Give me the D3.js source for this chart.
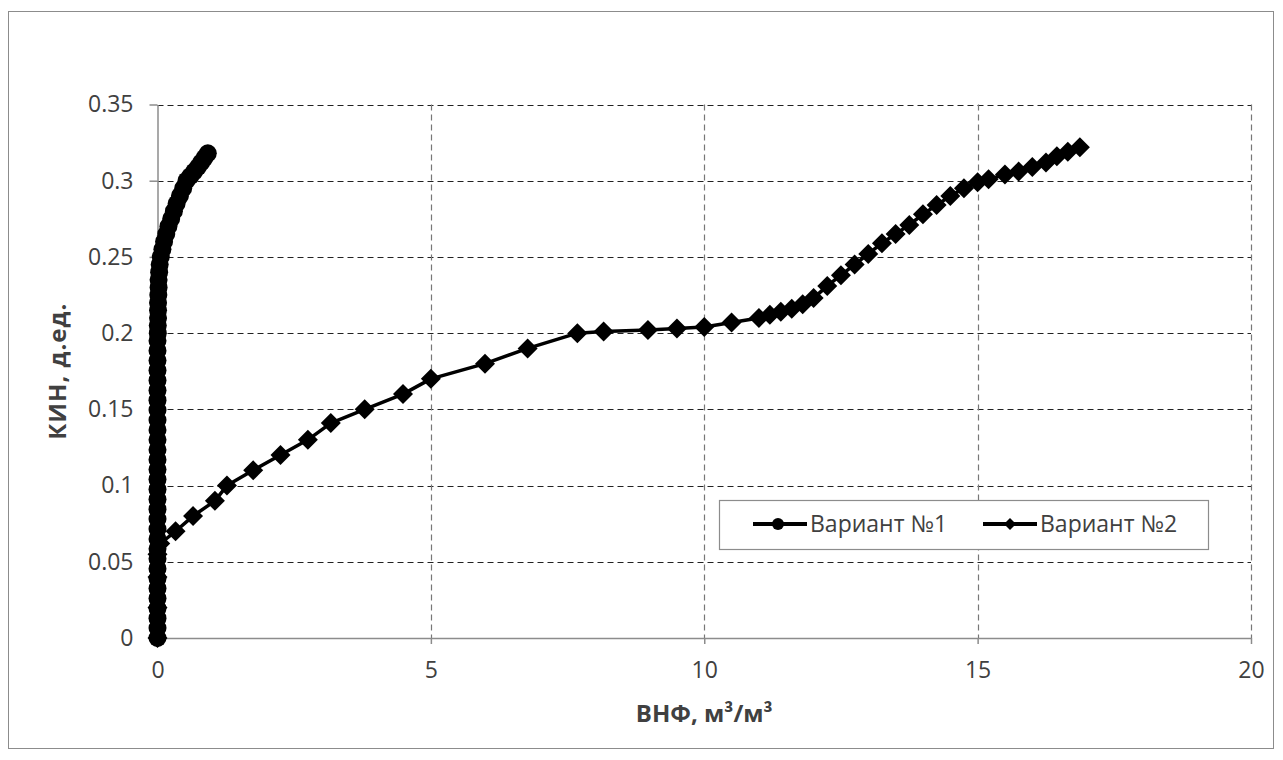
<!DOCTYPE html>
<html>
<head>
<meta charset="utf-8">
<script src="https://cdn.jsdelivr.net/npm/d3@7.9.0/dist/d3.min.js"></script>
<style>
  html, body { margin: 0; padding: 0; background: #fff; }
  svg { display: block; font-family: "Open Sans", Lato, sans-serif; }
</style>
</head>
<body>
<svg id="chart" width="1283" height="760"></svg>
<script>
// Вариант №1 (circles)
const x1 = [0, 0, 0, 0, 0, 0, 0, 0, 0, 0,
            0, 0, 0, 0, 0, 0, 0, 0, 0, 0,
            0, 0, 0, 0, 0, 0, 0, 0, 0, 0,
            0, 0.005, 0.005, 0.01, 0.01, 0.01, 0.015, 0.02, 0.02, 0.03,
            0.04, 0.06, 0.09, 0.12, 0.16, 0.2, 0.25, 0.3, 0.35, 0.41,
            0.47, 0.53, 0.6, 0.67, 0.74, 0.8, 0.86, 0.92];
const y1 = [0, 0.0065, 0.013, 0.0195, 0.026, 0.0325, 0.039, 0.0455, 0.052, 0.0585,
            0.065, 0.0715, 0.078, 0.0845, 0.091, 0.0975, 0.104, 0.1105, 0.117, 0.1235,
            0.13, 0.1365, 0.143, 0.1495, 0.156, 0.1625, 0.169, 0.1755, 0.182, 0.1885,
            0.195, 0.2, 0.205, 0.21, 0.215, 0.22, 0.225, 0.23, 0.235, 0.24,
            0.245, 0.25, 0.255, 0.26, 0.265, 0.27, 0.275, 0.28, 0.285, 0.29,
            0.295, 0.3, 0.303, 0.306, 0.309, 0.312, 0.315, 0.318];

// Вариант №2 (diamonds)
const x2 = [0, 0, 0, 0, 0.05, 0.33, 0.65, 1.05, 1.27, 1.75,
            2.25, 2.75, 3.17, 3.79, 4.49, 5.0, 5.99, 6.77, 7.68, 8.16,
            8.97, 9.5, 10.0, 10.5, 11.0, 11.2, 11.4, 11.6, 11.8, 12.0,
            12.25, 12.5, 12.75, 13.0, 13.25, 13.5, 13.75, 14.0, 14.25, 14.5,
            14.75, 15.0, 15.2, 15.5, 15.75, 16.0, 16.25, 16.45, 16.65, 16.87];
const y2 = [0, 0.02, 0.04, 0.055, 0.062, 0.07, 0.08, 0.09, 0.1, 0.11,
            0.12, 0.13, 0.141, 0.15, 0.16, 0.17, 0.18, 0.19, 0.2, 0.201,
            0.202, 0.203, 0.204, 0.207, 0.21, 0.212, 0.214, 0.216, 0.219, 0.223,
            0.231, 0.238, 0.245, 0.252, 0.259, 0.265, 0.271, 0.278, 0.284, 0.29,
            0.295, 0.299, 0.301, 0.304, 0.306, 0.309, 0.312, 0.316, 0.319, 0.322];

const xTicks = [0, 5, 10, 15, 20];
const yTicks = [0, 0.05, 0.1, 0.15, 0.2, 0.25, 0.3, 0.35];
const seriesNames = ['Вариант №1', 'Вариант №2'];
const xTitle = 'ВНФ, м³/м³';
const yTitle = 'КИН, д.ед.';

const svg = d3.select('#chart');

// outer chart frame
svg.append('rect')
  .attr('x', 8.5).attr('y', 11.5)
  .attr('width', 1265).attr('height', 737)
  .attr('fill', '#fff').attr('stroke', '#8c8c8c').attr('stroke-width', 1);

const x = d3.scaleLinear().domain([0, 20]).range([157.5, 1251]);
const y = d3.scaleLinear().domain([0, 0.35]).range([638, 104.5]);

// grid lines
const grid = svg.append('g');
grid.selectAll('.hgrid')
  .data(yTicks.filter(d => d > 0))
  .join('line')
  .attr('x1', x(0)).attr('x2', x(20))
  .attr('y1', d => Math.round(y(d)) + 0.5).attr('y2', d => Math.round(y(d)) + 0.5)
  .attr('stroke', '#222').attr('stroke-width', 1.2)
  .attr('stroke-dasharray', '6,4');
grid.selectAll('.vgrid')
  .data(xTicks.filter(d => d > 0))
  .join('line')
  .attr('x1', d => Math.round(x(d)) + 0.5).attr('x2', d => Math.round(x(d)) + 0.5)
  .attr('y1', y(0.35)).attr('y2', y(0))
  .attr('stroke', '#777').attr('stroke-width', 1.2)
  .attr('stroke-dasharray', '6,4');

// axes
const xAxis = svg.append('g')
  .attr('transform', `translate(0,${y(0)})`)
  .call(d3.axisBottom(x).tickValues(xTicks).tickSize(6).tickPadding(18).tickSizeOuter(0));
const yAxis = svg.append('g')
  .attr('transform', `translate(${x(0)},0)`)
  .call(d3.axisLeft(y).tickValues(yTicks).tickFormat(d => d3.format('')(+d.toFixed(2))).tickSize(8).tickPadding(16).tickSizeOuter(0));
[xAxis, yAxis].forEach(g => {
  g.select('.domain').attr('stroke', '#8c8c8c').attr('stroke-width', 1.5);
  g.selectAll('.tick line').attr('stroke', '#8c8c8c').attr('stroke-width', 1.5);
  g.selectAll('.tick text').attr('fill', '#404040').style('font-size', '23px').style('font-family', '"Open Sans", sans-serif');
});

// axis titles
svg.append('text')
  .attr('x', (x(0) + x(20)) / 2).attr('y', 722)
  .attr('text-anchor', 'middle')
  .attr('font-size', 24).attr('font-weight', 'bold').attr('fill', '#404040')
  .text(xTitle);
svg.append('text')
  .attr('transform', `translate(66,${(y(0) + y(0.35)) / 2}) rotate(-90)`)
  .attr('text-anchor', 'middle')
  .attr('font-size', 24).attr('font-weight', 'bold').attr('fill', '#404040')
  .attr('letter-spacing', 1)
  .text(yTitle);

const s1 = x1.map((v, i) => [v, y1[i]]);
const s2 = x2.map((v, i) => [v, y2[i]]);
const line = d3.line().x(d => x(d[0])).y(d => y(d[1]));

const diamond = (s) => `M0,${-s}L${s},0L0,${s}L${-s},0Z`;

// series 2
svg.append('path').datum(s2)
  .attr('d', line).attr('fill', 'none').attr('stroke', '#000').attr('stroke-width', 3.5)
  .attr('stroke-linejoin', 'round');
svg.append('g').selectAll('path')
  .data(s2)
  .join('path')
  .attr('transform', d => `translate(${x(d[0])},${y(d[1])})`)
  .attr('d', diamond(10)).attr('fill', '#000');

// series 1
svg.append('path').datum(s1)
  .attr('d', line).attr('fill', 'none').attr('stroke', '#000').attr('stroke-width', 3.5)
  .attr('stroke-linejoin', 'round');
svg.append('g').selectAll('circle')
  .data(s1)
  .join('circle')
  .attr('cx', d => x(d[0])).attr('cy', d => y(d[1]))
  .attr('r', 9).attr('fill', '#000');

// legend
const lg = svg.append('g');
lg.append('rect')
  .attr('x', 719.5).attr('y', 500.5).attr('width', 489).attr('height', 49)
  .attr('fill', '#fff').attr('stroke', '#8c8c8c').attr('stroke-width', 1.2);
const items = lg.selectAll('.item')
  .data(seriesNames)
  .join('g')
  .attr('transform', (d, i) => `translate(${i === 0 ? 753 : 983},524)`);
items.append('line')
  .attr('x1', 0).attr('x2', 54).attr('y1', 0).attr('y2', 0)
  .attr('stroke', '#000').attr('stroke-width', 4);
items.filter((d, i) => i === 0).append('circle')
  .attr('cx', 25).attr('cy', 0).attr('r', 6).attr('fill', '#000');
items.filter((d, i) => i === 1).append('path')
  .attr('transform', 'translate(27,0)').attr('d', diamond(6)).attr('fill', '#000');
items.append('text')
  .attr('x', 57).attr('y', 8)
  .attr('font-size', 23).attr('fill', '#404040')
  .text(d => d);
</script>
</body>
</html>
